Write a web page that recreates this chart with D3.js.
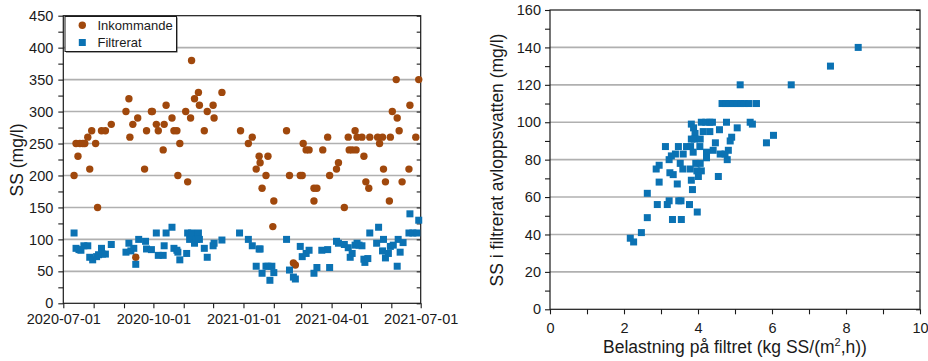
<!DOCTYPE html>
<html>
<head>
<meta charset="utf-8">
<script src="https://cdn.jsdelivr.net/npm/d3@7"></script>
<style>
  body { margin: 0; background: #fff; }
  svg { display: block; font-family: Arial, "Liberation Sans", sans-serif; }
</style>
</head>
<body>
<div id="chart"></div>
<script>
// left chart: SS over time
const inkommande = [
  ['2020-07-12', 200], ['2020-07-14', 250], ['2020-07-16', 230], ['2020-07-18', 250],
  ['2020-07-21', 250], ['2020-07-23', 250], ['2020-07-26', 260], ['2020-07-28', 210],
  ['2020-07-30', 270], ['2020-08-03', 250], ['2020-08-05', 150], ['2020-08-09', 270],
  ['2020-08-13', 270], ['2020-08-19', 280], ['2020-09-03', 300], ['2020-09-06', 320],
  ['2020-09-07', 260], ['2020-09-10', 280], ['2020-09-15', 290], ['2020-09-13', 72],
  ['2020-09-22', 210], ['2020-09-24', 270], ['2020-09-29', 300], ['2020-09-30', 300],
  ['2020-10-04', 280], ['2020-10-06', 270], ['2020-10-11', 240], ['2020-10-12', 280],
  ['2020-10-14', 310], ['2020-10-20', 290], ['2020-10-22', 270], ['2020-10-25', 270],
  ['2020-10-26', 200], ['2020-10-28', 250], ['2020-11-03', 300], ['2020-11-05', 190],
  ['2020-11-08', 290], ['2020-11-09', 380], ['2020-11-12', 320], ['2020-11-16', 330],
  ['2020-11-17', 310], ['2020-11-22', 270], ['2020-11-25', 300], ['2020-12-01', 310],
  ['2020-12-02', 290], ['2020-12-10', 330], ['2020-12-29', 270], ['2021-01-06', 250],
  ['2021-01-10', 260], ['2021-01-14', 210], ['2021-01-17', 230], ['2021-01-18', 220],
  ['2021-01-20', 180], ['2021-01-24', 200], ['2021-01-26', 230], ['2021-01-31', 120],
  ['2021-02-01', 160], ['2021-02-14', 270], ['2021-02-17', 200], ['2021-02-21', 63],
  ['2021-02-23', 60], ['2021-02-28', 200], ['2021-03-02', 200], ['2021-03-03', 250],
  ['2021-03-06', 240], ['2021-03-09', 240], ['2021-03-14', 160], ['2021-03-14', 180],
  ['2021-03-17', 180], ['2021-03-23', 240], ['2021-03-28', 260], ['2021-03-30', 200],
  ['2021-04-06', 210], ['2021-04-08', 220], ['2021-04-14', 150], ['2021-04-18', 260],
  ['2021-04-19', 240], ['2021-04-22', 240], ['2021-04-25', 270], ['2021-04-26', 240],
  ['2021-04-27', 260], ['2021-05-02', 260], ['2021-05-04', 230], ['2021-05-06', 190],
  ['2021-05-09', 180], ['2021-05-10', 260], ['2021-05-18', 260], ['2021-05-20', 250],
  ['2021-05-23', 260], ['2021-05-24', 210], ['2021-05-26', 190], ['2021-05-30', 160],
  ['2021-05-31', 260], ['2021-06-02', 300], ['2021-06-06', 350], ['2021-06-07', 290],
  ['2021-06-09', 270], ['2021-06-12', 190], ['2021-06-19', 210], ['2021-06-20', 310],
  ['2021-06-26', 260], ['2021-06-29', 350]
];

const filtrerat = [
  ['2020-07-12', 110], ['2020-07-14', 86], ['2020-07-17', 84], ['2020-07-19', 83],
  ['2020-07-22', 90], ['2020-07-26', 90], ['2020-07-28', 72], ['2020-07-31', 68],
  ['2020-08-04', 73], ['2020-08-06', 76], ['2020-08-09', 86], ['2020-08-10', 77],
  ['2020-08-13', 77], ['2020-08-19', 92], ['2020-09-03', 80], ['2020-09-06', 94],
  ['2020-09-08', 82], ['2020-09-11', 86], ['2020-09-13', 61], ['2020-09-16', 100],
  ['2020-09-23', 97], ['2020-09-24', 85], ['2020-09-29', 84], ['2020-10-04', 110],
  ['2020-10-06', 75], ['2020-10-11', 75], ['2020-10-12', 90], ['2020-10-14', 110],
  ['2020-10-20', 119], ['2020-10-22', 86], ['2020-10-25', 83], ['2020-10-26', 80],
  ['2020-10-28', 68], ['2020-11-04', 78], ['2020-11-05', 110], ['2020-11-07', 100],
  ['2020-11-09', 110], ['2020-11-12', 94], ['2020-11-14', 100], ['2020-11-16', 110],
  ['2020-11-17', 100], ['2020-11-22', 86], ['2020-11-25', 72], ['2020-12-01', 90],
  ['2020-12-02', 94], ['2020-12-10', 99], ['2020-12-28', 110], ['2021-01-06', 100],
  ['2021-01-10', 90], ['2021-01-17', 85], ['2021-01-18', 85], ['2021-01-14', 58],
  ['2021-01-20', 47], ['2021-01-24', 58], ['2021-01-26', 58], ['2021-01-30', 58],
  ['2021-01-28', 36], ['2021-02-01', 48], ['2021-02-14', 100], ['2021-02-17', 52],
  ['2021-02-21', 41], ['2021-02-23', 38], ['2021-02-28', 89], ['2021-03-02', 73],
  ['2021-03-06', 78], ['2021-03-09', 83], ['2021-03-14', 47], ['2021-03-17', 56],
  ['2021-03-22', 83], ['2021-03-28', 84], ['2021-03-30', 56], ['2021-04-06', 97],
  ['2021-04-08', 94], ['2021-04-14', 92], ['2021-04-18', 87], ['2021-04-20', 72],
  ['2021-04-22', 78], ['2021-04-25', 91], ['2021-04-27', 94], ['2021-04-29', 91],
  ['2021-05-02', 90], ['2021-05-04', 69], ['2021-05-05', 64], ['2021-05-08', 70],
  ['2021-05-10', 110], ['2021-05-17', 94], ['2021-05-19', 119], ['2021-05-23', 82],
  ['2021-05-24', 100], ['2021-05-26', 71], ['2021-05-29', 78], ['2021-05-31', 89],
  ['2021-06-03', 91], ['2021-06-07', 58], ['2021-06-08', 100], ['2021-06-10', 80],
  ['2021-06-13', 95], ['2021-06-19', 110], ['2021-06-20', 140], ['2021-06-23', 110],
  ['2021-06-27', 110], ['2021-06-29', 130]
];

const leftYTicks = [0, 50, 100, 150, 200, 250, 300, 350, 400, 450];
const leftXTicks = ['2020-07-01', '2020-10-01', '2021-01-01', '2021-04-01', '2021-07-01'];

// right chart: load vs filtered SS
const belastningVsSS = [
  [8.33, 140], [7.58, 130], [6.52, 120], [5.14, 120],
  [4.65, 110], [4.75, 110], [4.85, 110], [4.95, 110], [5.05, 110], [5.15, 110], [5.25, 110], [5.38, 110], [5.58, 110],
  [4.09, 100], [4.21, 100], [4.32, 100], [4.39, 100], [4.77, 100], [5.41, 100], [5.47, 99],
  [3.82, 99], [3.88, 97], [3.92, 94], [4.14, 95], [4.32, 95], [4.58, 96], [5.06, 97], [4.91, 92], [4.87, 90],
  [6.04, 93], [5.85, 89],
  [3.82, 91], [3.9, 91], [4.06, 91], [4.47, 89],
  [3.12, 87], [3.47, 87], [3.69, 87], [3.8, 87], [4.05, 87], [4.41, 85], [4.82, 85],
  [3.39, 83], [3.28, 82], [3.6, 83], [3.87, 84], [4.23, 84], [4.6, 83], [4.73, 83],
  [4.23, 81], [3.22, 80], [4.79, 80], [2.95, 77], [3.52, 78], [3.94, 78], [4.06, 78],
  [2.87, 75], [3.59, 75], [3.79, 75], [3.97, 74], [4.09, 74], [3.24, 73], [3.33, 72], [4.01, 71], [4.55, 71],
  [3.82, 69], [2.95, 68], [3.44, 67], [3.85, 64], [2.63, 62],
  [3.22, 58], [3.48, 58], [3.54, 58], [2.9, 56], [3.17, 56], [3.77, 56], [3.98, 52],
  [2.63, 49], [3.31, 48], [3.55, 48],
  [2.47, 41], [2.17, 38], [2.26, 36]
];

const rightXTicks = [0, 2, 4, 6, 8, 10];
const rightYTicks = [0, 20, 40, 60, 80, 100, 120, 140, 160];

const brown = '#a0480c';
const blue = '#0b72b3';
const gridColor = '#b0b0b0';
const axisColor = '#1a1a1a';

const W = 928, H = 361;
const svg = d3.select('#chart').append('svg')
  .attr('width', W)
  .attr('height', H);

function styleAxis(g, fontSize) {
  g.select('.domain').remove();
  g.selectAll('line').attr('stroke', axisColor).attr('stroke-width', 1.1);
  g.selectAll('text')
    .attr('fill', '#1a1a1a')
    .style('font-size', fontSize + 'px')
    .style('font-family', 'Arial, "Liberation Sans", sans-serif');
}

function frame(g, x0, x1, y0, y1) {
  g.append('rect')
    .attr('x', x0)
    .attr('y', y0)
    .attr('width', x1 - x0)
    .attr('height', y1 - y0)
    .attr('fill', 'none')
    .attr('stroke', axisColor)
    .attr('stroke-width', 1.2);
}

// ---------- left chart ----------
{
  const parse = d3.timeParse('%Y-%m-%d');
  const fmt = d3.timeFormat('%Y-%m-%d');
  const x0 = 63.3, x1 = 420.7, yTop = 15.7, yBot = 303.3;
  const x = d3.scaleTime([parse(leftXTicks[0]), parse(leftXTicks[leftXTicks.length - 1])], [x0, x1]);
  const y = d3.scaleLinear([0, 450], [yBot, yTop]);

  const g = svg.append('g');

  // grid
  g.append('g').selectAll('line')
    .data(leftYTicks.filter(d => d > 0 && d < 450))
    .join('line')
      .attr('x1', x0)
      .attr('x2', x1)
      .attr('y1', d => y(d))
      .attr('y2', d => y(d))
      .attr('stroke', gridColor)
      .attr('stroke-width', 1.6);

  // axes
  const labelSet = new Set(leftXTicks);
  const months = d3.timeMonth.range(x.domain()[0], d3.timeDay.offset(x.domain()[1], 1));
  g.append('g')
    .attr('transform', `translate(0,${yBot})`)
    .call(d3.axisBottom(x).tickValues(months).tickSize(5).tickPadding(5)
      .tickFormat(d => labelSet.has(fmt(d)) ? fmt(d) : ''))
    .call(a => styleAxis(a, 14.5));

  g.append('g')
    .attr('transform', `translate(${x0},0)`)
    .call(d3.axisLeft(y).tickValues(d3.range(0, 451, 25)).tickSize(5).tickPadding(5)
      .tickFormat(d => leftYTicks.includes(d) ? d : ''))
    .call(a => styleAxis(a, 14.5));

  g.append('g')
    .attr('transform', `translate(${x1},0)`)
    .call(d3.axisLeft(y).tickValues(d3.range(0, 451, 25)).tickSize(4).tickFormat(''))
    .call(a => styleAxis(a, 14.5));

  frame(g, x0, x1, yTop, yBot);

  // points
  g.append('g').selectAll('circle')
    .data(inkommande)
    .join('circle')
      .attr('cx', d => x(parse(d[0])))
      .attr('cy', d => y(d[1]))
      .attr('r', 3.7)
      .attr('fill', brown);

  const s = 7;
  g.append('g').selectAll('rect')
    .data(filtrerat)
    .join('rect')
      .attr('x', d => x(parse(d[0])) - s / 2)
      .attr('y', d => y(d[1]) - s / 2)
      .attr('width', s)
      .attr('height', s)
      .attr('fill', blue);

  // y title
  g.append('text')
    .attr('transform', `translate(23,160) rotate(-90)`)
    .attr('text-anchor', 'middle')
    .attr('fill', '#1a1a1a')
    .style('font-size', '17.5px')
    .text('SS (mg/l)');

  // legend
  const lg = g.append('g').attr('transform', 'translate(65,16.5)');
  lg.append('rect')
    .attr('x', 1).attr('y', 1)
    .attr('width', 111.5).attr('height', 35)
    .attr('fill', '#444');
  lg.append('rect')
    .attr('width', 111.5).attr('height', 35)
    .attr('fill', '#fff')
    .attr('stroke', axisColor)
    .attr('stroke-width', 1);
  lg.append('circle')
    .attr('cx', 17.3).attr('cy', 8.7).attr('r', 3.7).attr('fill', brown);
  lg.append('rect')
    .attr('x', 17.3 - s / 2).attr('y', 26 - s / 2)
    .attr('width', s).attr('height', s).attr('fill', blue);
  lg.append('text')
    .attr('x', 32.5).attr('y', 13.5)
    .attr('fill', '#1a1a1a')
    .style('font-size', '13px')
    .text('Inkommande');
  lg.append('text')
    .attr('x', 32.5).attr('y', 30.8)
    .attr('fill', '#1a1a1a')
    .style('font-size', '13px')
    .text('Filtrerat');
}

// ---------- right chart ----------
{
  const x0 = 550, x1 = 920, yTop = 10, yBot = 309.3;
  const x = d3.scaleLinear([0, 10], [x0, x1]);
  const y = d3.scaleLinear([0, 160], [yBot, yTop]);

  const g = svg.append('g');

  g.append('g').selectAll('line')
    .data(rightYTicks.filter(d => d > 0 && d < 160))
    .join('line')
      .attr('x1', x0)
      .attr('x2', x1)
      .attr('y1', d => y(d))
      .attr('y2', d => y(d))
      .attr('stroke', gridColor)
      .attr('stroke-width', 1.6);

  g.append('g')
    .attr('transform', `translate(0,${yBot})`)
    .call(d3.axisBottom(x).tickValues(d3.range(0, 11, 1)).tickSize(5).tickPadding(8)
      .tickFormat(d => rightXTicks.includes(d) ? d : ''))
    .call(a => styleAxis(a, 14.5));

  g.append('g')
    .attr('transform', `translate(${x0},0)`)
    .call(d3.axisLeft(y).tickValues(d3.range(0, 161, 10)).tickSize(5).tickPadding(4)
      .tickFormat(d => rightYTicks.includes(d) ? d : ''))
    .call(a => styleAxis(a, 14.5));

  g.append('g')
    .attr('transform', `translate(${x1},0)`)
    .call(d3.axisLeft(y).tickValues(d3.range(0, 161, 10)).tickSize(4).tickFormat(''))
    .call(a => styleAxis(a, 14.5));

  frame(g, x0, x1, yTop, yBot);

  const s = 7;
  g.append('g').selectAll('rect')
    .data(belastningVsSS)
    .join('rect')
      .attr('x', d => x(d[0]) - s / 2)
      .attr('y', d => y(d[1]) - s / 2)
      .attr('width', s)
      .attr('height', s)
      .attr('fill', blue);

  g.append('text')
    .attr('transform', `translate(503,160) rotate(-90)`)
    .attr('text-anchor', 'middle')
    .attr('fill', '#1a1a1a')
    .style('font-size', '17.5px')
    .text('SS i filtrerat avloppsvatten (mg/l)');

  const xt = g.append('text')
    .attr('x', (x0 + x1) / 2)
    .attr('y', 353)
    .attr('text-anchor', 'middle')
    .attr('fill', '#1a1a1a')
    .style('font-size', '17.5px');
  xt.append('tspan').text('Belastning på filtret (kg SS/(m');
  xt.append('tspan').attr('dy', -7).style('font-size', '11px').text('2');
  xt.append('tspan').attr('dy', 7).text(',h))');
}
</script>
</body>
</html>
